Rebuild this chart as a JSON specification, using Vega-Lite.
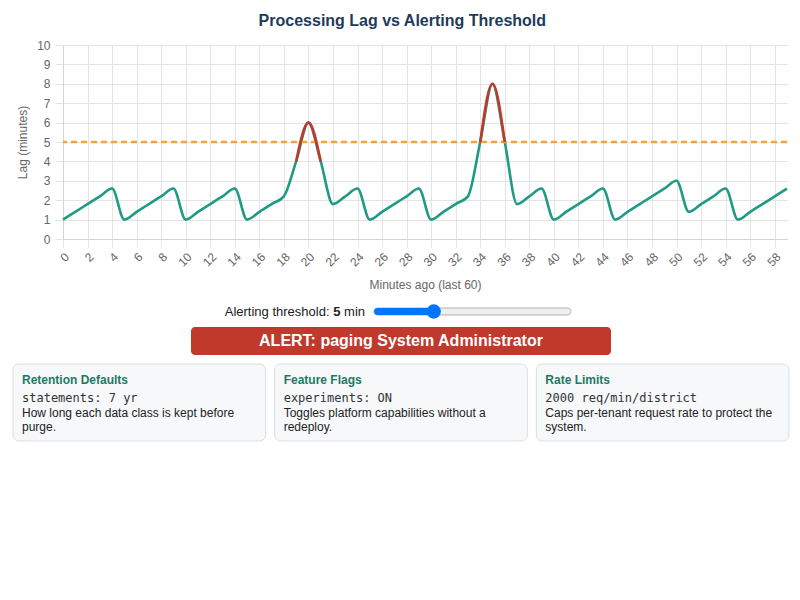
{
  "$schema": "https://vega.github.io/schema/vega-lite/v6.json",
  "padding": {"left": 12, "right": 12, "top": 13, "bottom": 0},
  "background": "white",
  "title": {"text": "Processing Lag vs Alerting Threshold", "font": "Liberation Sans", "fontSize": 16, "fontWeight": "bold", "color": "#1d3b5c", "anchor": "middle", "frame": "bounds", "offset": 10},
  "center": false,
  "spacing": 13,
  "config": {"view": {"stroke": null}, "font": "Liberation Sans"},
  "datasets": {
    "lag": [
      {"minute": 0, "lag": 1.0}, {"minute": 1, "lag": 1.4}, {"minute": 2, "lag": 1.8}, {"minute": 3, "lag": 2.2}, {"minute": 4, "lag": 2.6},
      {"minute": 5, "lag": 1.0}, {"minute": 6, "lag": 1.4}, {"minute": 7, "lag": 1.8}, {"minute": 8, "lag": 2.2}, {"minute": 9, "lag": 2.6},
      {"minute": 10, "lag": 1.0}, {"minute": 11, "lag": 1.4}, {"minute": 12, "lag": 1.8}, {"minute": 13, "lag": 2.2}, {"minute": 14, "lag": 2.6},
      {"minute": 15, "lag": 1.0}, {"minute": 16, "lag": 1.4}, {"minute": 17, "lag": 1.8}, {"minute": 18, "lag": 2.2}, {"minute": 19, "lag": 4.0},
      {"minute": 20, "lag": 6.0}, {"minute": 21, "lag": 4.0}, {"minute": 22, "lag": 1.8}, {"minute": 23, "lag": 2.2}, {"minute": 24, "lag": 2.6},
      {"minute": 25, "lag": 1.0}, {"minute": 26, "lag": 1.4}, {"minute": 27, "lag": 1.8}, {"minute": 28, "lag": 2.2}, {"minute": 29, "lag": 2.6},
      {"minute": 30, "lag": 1.0}, {"minute": 31, "lag": 1.4}, {"minute": 32, "lag": 1.8}, {"minute": 33, "lag": 2.2}, {"minute": 34, "lag": 5.0},
      {"minute": 35, "lag": 8.0}, {"minute": 36, "lag": 5.0}, {"minute": 37, "lag": 1.8}, {"minute": 38, "lag": 2.2}, {"minute": 39, "lag": 2.6},
      {"minute": 40, "lag": 1.0}, {"minute": 41, "lag": 1.4}, {"minute": 42, "lag": 1.8}, {"minute": 43, "lag": 2.2}, {"minute": 44, "lag": 2.6},
      {"minute": 45, "lag": 1.0}, {"minute": 46, "lag": 1.4}, {"minute": 47, "lag": 1.8}, {"minute": 48, "lag": 2.2}, {"minute": 49, "lag": 2.6},
      {"minute": 50, "lag": 3.0}, {"minute": 51, "lag": 1.4}, {"minute": 52, "lag": 1.8}, {"minute": 53, "lag": 2.2}, {"minute": 54, "lag": 2.6},
      {"minute": 55, "lag": 1.0}, {"minute": 56, "lag": 1.4}, {"minute": 57, "lag": 1.8}, {"minute": 58, "lag": 2.2}, {"minute": 59, "lag": 2.6}
    ],
    "threshold": [{"threshold": 5}],
    "slider": [{"label": "Alerting threshold:", "threshold": 5, "unit": "min", "min": 1, "max": 15}],
    "alert": [{"message": "ALERT: paging System Administrator"}],
    "cards": [
      {"card": "Retention Defaults", "value": "statements: 7 yr", "desc": ["How long each data class is kept before", "purge."]},
      {"card": "Feature Flags", "value": "experiments: ON", "desc": ["Toggles platform capabilities without a", "redeploy."]},
      {"card": "Rate Limits", "value": "2000 req/min/district", "desc": ["Caps per-tenant request rate to protect the", "system."]}
    ]
  },
  "vconcat": [
    {
      "width": 724,
      "height": 194,
      "encoding": {
        "x": {
          "type": "quantitative",
          "scale": {"domain": [0, 59], "nice": false, "zero": false},
          "axis": {
            "values": [0, 2, 4, 6, 8, 10, 12, 14, 16, 18, 20, 22, 24, 26, 28, 30, 32, 34, 36, 38, 40, 42, 44, 46, 48, 50, 52, 54, 56, 58],
            "labelAngle": -45, "labelFontSize": 12, "labelColor": "#666666", "labelPadding": 4, "labelOverlap": false,
            "tickSize": 8, "tickColor": "#e4e4e4", "gridColor": "#e4e4e4", "domainColor": "#d4d4d4",
            "title": "Minutes ago (last 60)", "titleFontSize": 12, "titleFontWeight": "normal", "titleColor": "#666666", "titlePadding": 11,
            "grid": true
          }
        },
        "y": {
          "type": "quantitative",
          "scale": {"domain": [0, 10], "nice": false},
          "axis": {
            "values": [0, 1, 2, 3, 4, 5, 6, 7, 8, 9, 10],
            "labelFontSize": 12, "labelColor": "#666666", "labelPadding": 5, "labelOverlap": false,
            "tickSize": 8, "tickColor": "#e4e4e4", "gridColor": "#e4e4e4", "domainColor": "#d4d4d4",
            "title": "Lag (minutes)", "titleFontSize": 12, "titleFontWeight": "normal", "titleColor": "#666666", "titlePadding": 7,
            "grid": true
          }
        }
      },
      "layer": [
        {
          "data": {"name": "lag"},
          "mark": {"type": "line", "interpolate": "monotone", "color": "#1f9a85", "strokeWidth": 2.6},
          "encoding": {"x": {"field": "minute"}, "y": {"field": "lag"}}
        },
        {
          "data": {"name": "threshold"},
          "mark": {"type": "rule", "color": "#f2a33a", "strokeWidth": 2.5, "strokeDash": [6, 4]},
          "encoding": {"x": null, "y": {"field": "threshold"}}
        },
        {
          "data": {"name": "lag"},
          "transform": [{"filter": {"field": "minute", "range": [19, 21]}}],
          "mark": {"type": "line", "interpolate": "monotone", "color": "#c0392b", "strokeWidth": 2.6},
          "encoding": {"x": {"field": "minute"}, "y": {"field": "lag"}}
        },
        {
          "data": {"name": "lag"},
          "transform": [{"filter": {"field": "minute", "range": [34, 36]}}],
          "mark": {"type": "line", "interpolate": "monotone", "color": "#c0392b", "strokeWidth": 2.6},
          "encoding": {"x": {"field": "minute"}, "y": {"field": "lag"}}
        }
      ]
    },
    {
      "center": false,
      "spacing": 8,
      "vconcat": [
        {
          "width": 724,
          "height": 7,
          "data": {"name": "slider"},
          "encoding": {
            "x": {"field": "min", "type": "quantitative", "scale": {"domain": [1, 15], "range": [319, 500], "nice": false, "zero": false}, "axis": null}
          },
          "layer": [
            {
              "mark": {"type": "rect", "fill": "#efefef", "stroke": "#b2b2b2", "strokeWidth": 1, "cornerRadius": 3.5, "xOffset": -8, "x2Offset": 8},
              "encoding": {"x2": {"field": "max"}}
            },
            {
              "mark": {"type": "rect", "color": "#0075ff", "cornerRadius": 3.5, "xOffset": -8},
              "encoding": {"x2": {"field": "threshold"}}
            },
            {
              "mark": {"type": "point", "filled": true, "color": "#0075ff", "opacity": 1, "size": 205},
              "encoding": {"x": {"field": "threshold", "type": "quantitative"}}
            },
            {
              "mark": {"type": "text", "align": "right", "baseline": "middle", "fontSize": 13, "color": "#222222", "dx": -17},
              "encoding": {"text": {"field": "unit"}}
            },
            {
              "mark": {"type": "text", "align": "right", "baseline": "middle", "fontSize": 13, "fontWeight": "bold", "color": "#222222", "dx": -41.5},
              "encoding": {"text": {"field": "threshold"}}
            },
            {
              "mark": {"type": "text", "align": "right", "baseline": "middle", "fontSize": 13, "color": "#222222", "dx": -52.5},
              "encoding": {"text": {"field": "label"}}
            }
          ]
        },
        {
          "width": 724,
          "height": 28,
          "data": {"name": "alert"},
          "encoding": {
            "x": {"field": "message", "type": "nominal", "scale": {"range": [128, 548], "paddingInner": 0, "paddingOuter": 0}, "axis": null}
          },
          "layer": [
            {"mark": {"type": "rect", "color": "#c0392b", "cornerRadius": 4}},
            {
              "mark": {"type": "text", "color": "white", "fontSize": 16, "fontWeight": "bold", "baseline": "middle"},
              "encoding": {"text": {"field": "message"}}
            }
          ]
        },
        {
          "width": 724,
          "height": 77,
          "data": {"name": "cards"},
          "layer": [
            {
              "mark": {"type": "rect", "fill": "#f6f8fa", "stroke": "#d9dee3", "strokeWidth": 1, "cornerRadius": 6},
              "encoding": {
                "x": {"field": "card", "type": "nominal", "sort": null, "scale": {"range": [-50, 726], "paddingInner": 0.0344, "paddingOuter": 0}, "axis": null}
              }
            },
            {
              "mark": {"type": "text", "align": "left", "baseline": "middle", "dx": 9, "dy": -23, "fontSize": 12, "fontWeight": "bold", "color": "#1d7a62"},
              "encoding": {
                "x": {"field": "card", "type": "nominal", "sort": null, "bandPosition": 0},
                "text": {"field": "card"}
              }
            },
            {
              "mark": {"type": "text", "align": "left", "baseline": "middle", "dx": 9, "dy": -5, "fontSize": 12, "font": "DejaVu Sans Mono", "color": "#333333"},
              "encoding": {
                "x": {"field": "card", "type": "nominal", "sort": null, "bandPosition": 0},
                "text": {"field": "value"}
              }
            },
            {
              "mark": {"type": "text", "align": "left", "baseline": "top", "dx": 9, "dy": 5, "fontSize": 12, "lineHeight": 14.4, "color": "#222222"},
              "encoding": {
                "x": {"field": "card", "type": "nominal", "sort": null, "bandPosition": 0},
                "text": {"field": "desc"}
              }
            }
          ]
        }
      ]
    }
  ]
}
